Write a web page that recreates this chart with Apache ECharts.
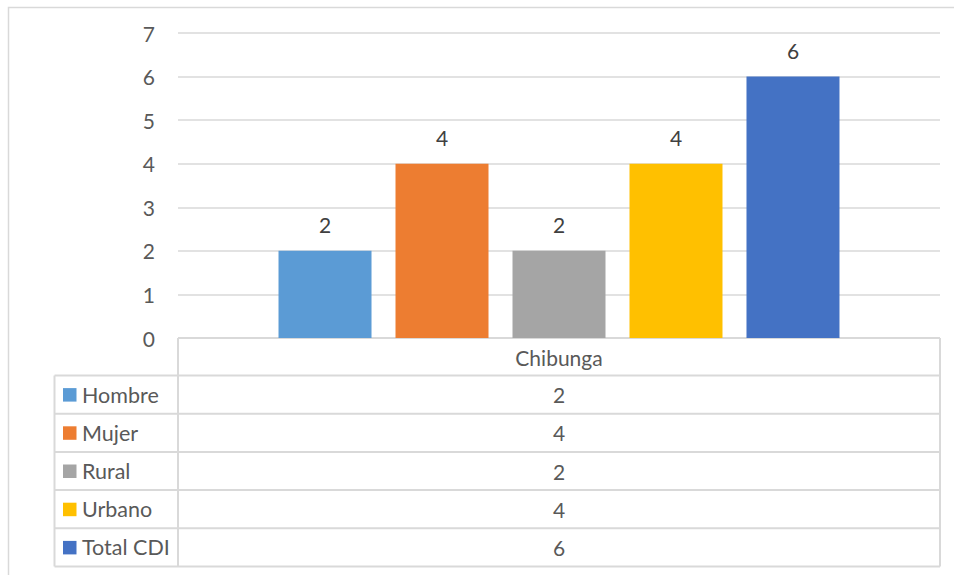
<!DOCTYPE html>
<html>
<head>
<meta charset="utf-8">
<script src="https://cdn.jsdelivr.net/npm/echarts@6/dist/echarts.min.js"></script>
<style>
html,body{margin:0;padding:0;background:#fff;}
#chart{width:954px;height:575px;}
</style>
</head>
<body>
<div id="chart"></div>
<script>
var categories = ['Chibunga'];
var seriesNames = ['Hombre', 'Mujer', 'Rural', 'Urbano', 'Total CDI'];
var hombre = [2];
var mujer = [4];
var rural = [2];
var urbano = [4];
var totalCDI = [6];
var yTicks = [0, 1, 2, 3, 4, 5, 6, 7];

var seriesData = [hombre, mujer, rural, urbano, totalCDI];
var colors = ['#5B9BD5', '#ED7D31', '#A5A5A5', '#FFC000', '#4472C4'];
var FONT = 'Lato, "Open Sans", sans-serif';

var chart = echarts.init(document.getElementById('chart'), null, {renderer: 'svg'});

var series = seriesNames.map(function (name, i) {
  return {
    name: name,
    type: 'bar',
    data: seriesData[i],
    barWidth: 93,
    barGap: '25.8%',
    itemStyle: {color: colors[i]},
    label: {
      show: true, position: 'top', distance: 16,
      color: '#404040', fontSize: 21, fontFamily: FONT
    }
  };
});

// data table graphics
var gLeft = 54.5, gMid = 178, gRight = 940, headTop = 338, rowTop = 375.5, rowH = 38.2;
var lineStyle = {stroke: '#d9d9d9', lineWidth: 2};
var graphics = [];
// outer chart border
graphics.push({type: 'rect', shape: {x: 8.5, y: 7.5, width: 1000, height: 700},
  style: {fill: 'none', stroke: '#d9d9d9', lineWidth: 1.5}, silent: true});
// header top line
graphics.push({type: 'line', shape: {x1: gMid, y1: headTop, x2: gRight, y2: headTop}, style: lineStyle});
// verticals
graphics.push({type: 'line', shape: {x1: gMid, y1: headTop, x2: gMid, y2: rowTop + rowH * seriesNames.length}, style: lineStyle});
graphics.push({type: 'line', shape: {x1: gRight, y1: headTop, x2: gRight, y2: rowTop + rowH * seriesNames.length}, style: lineStyle});
graphics.push({type: 'line', shape: {x1: gLeft, y1: rowTop, x2: gLeft, y2: rowTop + rowH * seriesNames.length}, style: lineStyle});
for (var r = 0; r <= seriesNames.length; r++) {
  var y = rowTop + rowH * r;
  graphics.push({type: 'line', shape: {x1: gLeft, y1: y, x2: gRight, y2: y}, style: lineStyle});
}
seriesNames.forEach(function (name, i) {
  var cy = rowTop + rowH * i + rowH / 2;
  graphics.push({type: 'rect', shape: {x: 63, y: cy - 6.5, width: 13.5, height: 13.5}, style: {fill: colors[i]}});
  graphics.push({type: 'text', x: 82, y: cy, style: {text: name, fill: '#595959', font: '21.5px ' + FONT, textVerticalAlign: 'middle', verticalAlign: 'middle'}});
  graphics.push({type: 'text', x: (gMid + gRight) / 2, y: cy, style: {text: String(seriesData[i][0]), fill: '#595959', font: '21px ' + FONT, textAlign: 'center', align: 'center', textVerticalAlign: 'middle', verticalAlign: 'middle'}});
});

chart.setOption({
  animation: false,
  backgroundColor: '#fff',
  grid: {left: 178, right: 14, top: 33, bottom: 237, containLabel: false},
  xAxis: {
    type: 'category', data: categories,
    axisLine: {show: false}, axisTick: {show: false},
    axisLabel: {color: '#595959', fontSize: 21, fontFamily: FONT, margin: 8, lineHeight: 22}
  },
  yAxis: {
    type: 'value', min: yTicks[0], max: yTicks[yTicks.length - 1], interval: 1,
    axisLine: {show: false}, axisTick: {show: false},
    axisLabel: {color: '#595959', fontSize: 21, fontFamily: FONT, margin: 23},
    splitLine: {lineStyle: {color: '#d9d9d9', width: 1.5}}
  },
  series: series,
  graphic: graphics
});
</script>
</body>
</html>
